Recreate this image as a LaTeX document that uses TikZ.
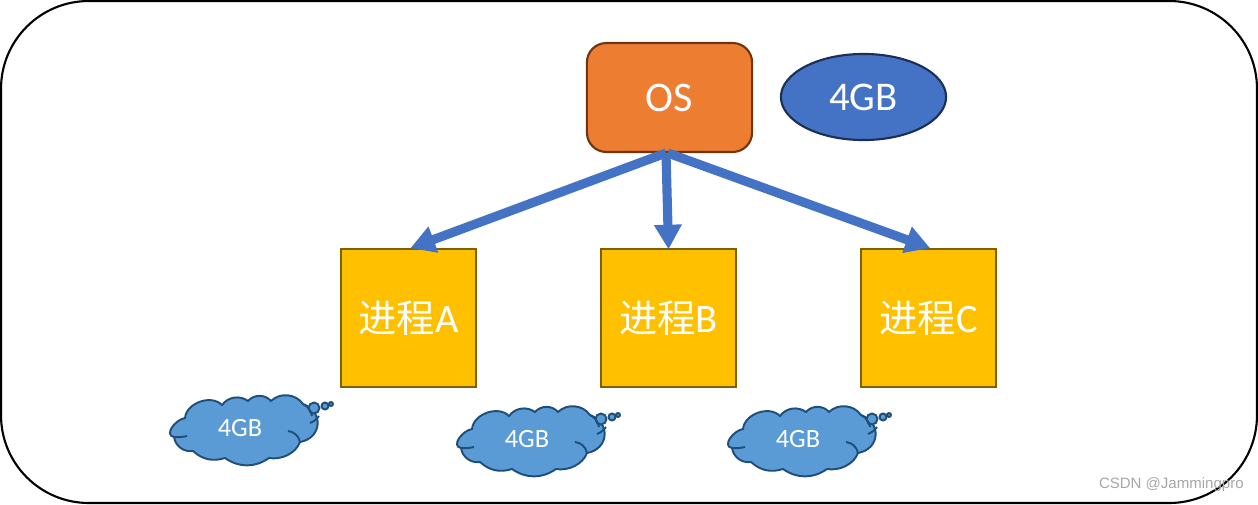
\documentclass[tikz,border=0pt]{standalone}
\usepackage{fontspec}
\setmainfont{Carlito}
\newfontfamily\cjk{Noto Sans CJK SC}
\newfontfamily\markfont{Liberation Sans}
\usetikzlibrary{arrows.meta,positioning,calc,shapes.geometric}
\definecolor{osfill}{HTML}{ED7D31}
\definecolor{osD}{HTML}{70340F}
\definecolor{memfill}{HTML}{4472C4}
\definecolor{memD}{HTML}{1C2F55}
\definecolor{proc}{HTML}{FFC000}
\definecolor{procD}{HTML}{7F6000}
\definecolor{bubble}{HTML}{5B9BD5}
\definecolor{bubbleD}{HTML}{1F4E79}
\newcommand{\procname}[1]{\raisebox{-0.8pt}{{\cjk\fontsize{21.8}{24}\selectfont 进程}#1}}
\tikzset{
  osbox/.style={draw=osD, fill=osfill, line width=1.2pt, rounded corners=11pt, minimum width=94pt, minimum height=62pt, inner sep=0pt, text=white, font=\fontsize{24}{26}\selectfont},
  membox/.style={draw=memD, fill=memfill, line width=1.2pt, ellipse, minimum width=94pt, minimum height=49pt, inner sep=0pt, text=white, font=\fontsize{23.2}{26}\selectfont},
  procbox/.style={draw=procD, fill=proc, line width=1.2pt, minimum width=77pt, minimum height=79pt, inner sep=0pt, text=white, font=\fontsize{23}{26}\selectfont},
  fatarrow/.style={-{Triangle[length=14pt,width=15pt]}, memfill, line width=5.2pt, shorten >=-1pt},
  bubbleline/.style={draw=bubbleD, line width=1.1pt},
  thought/.pic={
    \path[bubbleline, fill=bubble] (-55,-10) to[bend left=65] (-18,-23) to[bend left=45] (8,-27) to[bend left=50] (31,-27)
      to[bend left=50] (63,-24) to[out=-20,in=10,looseness=1.5] (60,14)
      to[out=-110,in=-10,looseness=0.9] (29,30) to[bend left=35] (-15,30) to[bend left=30] (-47,23)
      to[bend left=45] (-66,9) to[out=170,in=190,looseness=1.2] (-55,-10) -- cycle;
    \draw[bubbleline] (48,3) to[bend left=35] (60,14);
    \draw[bubbleline] (-66,9) to[bend right=8] (-53,8);
    \draw[bubbleline] (70,-5) to[bend right=15] (79,-12);
    \draw[bubbleline, fill=bubble] (74,-20) circle (5.5);
    \draw[bubbleline] (63,-24) to[bend left=25] (72,-12);
    \draw[bubbleline, fill=bubble] (85,-22) circle (3.5);
    \draw[bubbleline, fill=bubble] (91,-24) circle (2);
    \node[white, font=\fontsize{15}{17}\selectfont] (label) at (0,0) {4GB};
  }
}
\begin{document}
\begin{tikzpicture}[x=0.02cm, y=-0.02cm, >=Stealth]
\useasboundingbox (0,0) rectangle (1258,504);
\draw[line width=1.2pt, rounded corners=50pt] (1,1) rectangle (1257,503);
\node[osbox] (os) at (669.5,97.5) {OS};
\node[membox] (mem) at (863.5,97) {\raisebox{-0.5pt}{4GB}};
\node[procbox] (procA) at (408.5,318) {\procname{A}};
\node[procbox] (procB) at (668.5,318) {\procname{B}};
\node[procbox] (procC) at (928.5,318) {\procname{C}};
% arrows from the OS down to each process
\draw[fatarrow] ([xshift=-2pt]os.south) -- ([xshift=2pt]procA.north);
\draw[fatarrow] ([xshift=-2pt]os.south) -- (procB.north);
\draw[fatarrow] ([xshift=-1pt]os.south) -- (procC.north);
\pic (cloudA) at (240,428) {thought};
\pic (cloudB) at (527,439) {thought};
\pic (cloudC) at (798,439) {thought};
\node[gray!70, inner sep=0pt, font=\markfont\fontsize{8.55}{10}\selectfont, anchor=east] (mark) at (1244,485) {CSDN @Jammingpro};
\end{tikzpicture}
\end{document}
